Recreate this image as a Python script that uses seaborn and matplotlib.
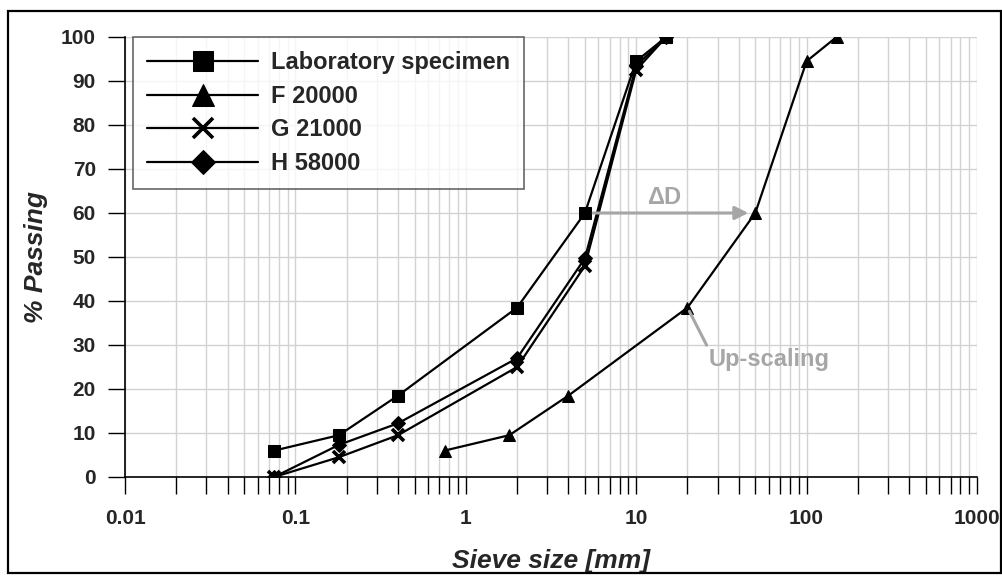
import numpy as np
import pandas as pd
import matplotlib
matplotlib.use("Agg")
import matplotlib.pyplot as plt
import matplotlib.ticker as mticker
from matplotlib.patches import Rectangle
import seaborn as sns

# Grain size distributions (sieve size in mm, percent passing)
lab_size = [0.075, 0.18, 0.4, 2, 5, 10, 15]
lab_pass = [6, 9.5, 18.5, 38.5, 60, 94.5, 100]

f_size = [0.75, 1.8, 4, 20, 50, 100, 150]
f_pass = [6, 9.5, 18.5, 38.5, 60, 94.5, 100]

g_size = [0.075, 0.18, 0.4, 2, 5, 10, 15]
g_pass = [0, 4.5, 9.5, 25, 48, 92.5, 100]

h_size = [0.075, 0.18, 0.4, 2, 5, 10, 15]
h_pass = [0, 7.3, 12.2, 27, 49.7, 93.5, 100]

series_names = ["Laboratory specimen", "F 20000", "G 21000", "H 58000"]
x_ticks = [0.01, 0.1, 1, 10, 100, 1000]
x_tick_labels = ["0.01", "0.1", "1", "10", "100", "1000"]
y_ticks = list(range(0, 101, 10))

sns.set_style("white")
plt.rcParams["font.family"] = ["Liberation Sans", "DejaVu Sans"]
plt.rcParams["font.weight"] = "bold"
plt.rcParams["mathtext.fontset"] = "custom"
plt.rcParams["mathtext.rm"] = "Liberation Sans"

fig = plt.figure(figsize=(10.03, 5.76), dpi=100)
ax = fig.add_axes([125 / 1003, 99 / 576, 852 / 1003, 440 / 576])

styles = [
    dict(marker="s", markersize=8),
    dict(marker="^", markersize=9),
    dict(marker="x", markersize=8, markeredgewidth=2.6),
    dict(marker="D", markersize=7),
]
data = [(lab_size, lab_pass), (f_size, f_pass), (g_size, g_pass), (h_size, h_pass)]

for (xs, ys), name, st in zip(data, series_names, styles):
    df = pd.DataFrame({"size": xs, "passing": ys})
    sns.lineplot(data=df, x="size", y="passing", ax=ax, color="black",
                 linewidth=1.6, sort=False, estimator=None, label=name,
                 markeredgecolor="black", markerfacecolor="black", **st)

ax.set_xscale("log")
ax.set_xlim(x_ticks[0], x_ticks[-1])
ax.set_ylim(0, 100)
ax.xaxis.set_major_locator(mticker.FixedLocator(x_ticks))
ax.xaxis.set_major_formatter(mticker.FixedFormatter(x_tick_labels))
ax.xaxis.set_minor_locator(mticker.LogLocator(base=10, subs=np.arange(2, 10)))
ax.xaxis.set_minor_formatter(mticker.NullFormatter())
ax.set_yticks(y_ticks)

ax.grid(True, which="both", axis="x", color="#d2d2d2", linewidth=1)
ax.grid(True, which="major", axis="y", color="#d2d2d2", linewidth=1)
ax.set_axisbelow(True)

for side in ["top", "right"]:
    ax.spines[side].set_visible(False)
for side in ["left", "bottom"]:
    ax.spines[side].set_color("black")
    ax.spines[side].set_linewidth(1.2)

ax.tick_params(axis="x", which="both", direction="out", length=12, width=1,
               color="black", bottom=True, pad=11, labelsize=15)
ax.tick_params(axis="y", which="major", direction="out", length=12, width=1,
               color="black", left=True, pad=9, labelsize=15)
for lab in ax.get_xticklabels() + ax.get_yticklabels():
    lab.set_fontweight("bold")

ax.set_xlabel("Sieve size [mm]", fontsize=19, fontweight="bold", style="italic", labelpad=15)
ax.set_ylabel("% Passing", fontsize=19, fontweight="bold", style="italic", labelpad=9)

leg = ax.legend(loc="upper left", bbox_to_anchor=(0.0094, 1.0), borderaxespad=0,
                frameon=True, fancybox=False, edgecolor="#404040",
                prop=dict(size=17, weight="bold"), handlelength=4.7,
                handletextpad=0.55, borderpad=0.6, labelspacing=0.45,
                markerscale=1.8)
leg.get_frame().set_linewidth(1.2)

# Shift of the gradation curve between specimen and field material
gray = "#a6a6a6"
ax.annotate("", xy=(f_size[4], f_pass[4]), xytext=(lab_size[4], lab_pass[4]),
            arrowprops=dict(arrowstyle="-|>,head_length=0.8,head_width=0.4",
                            color=gray, lw=2.2, shrinkA=6, shrinkB=5))
ax.text(14.6, 63.5, r"$\Delta$D", color=gray, fontsize=17, fontweight="bold",
        ha="center", va="center")
ax.annotate("Up-scaling", xy=(f_size[3], f_pass[3]), xytext=(60, 26.6),
            color=gray, fontsize=17, fontweight="bold", ha="center", va="center",
            arrowprops=dict(arrowstyle="-", color=gray, lw=2.2, shrinkA=0,
                            shrinkB=3, relpos=(0.0, 1.0)))

# Outer frame of the figure
fig.patches.append(Rectangle((8 / 1003, 3 / 576), 993 / 1003, 562 / 576,
                             transform=fig.transFigure, fill=False,
                             edgecolor="black", linewidth=1.6))

fig.savefig("out.png", dpi=100)
